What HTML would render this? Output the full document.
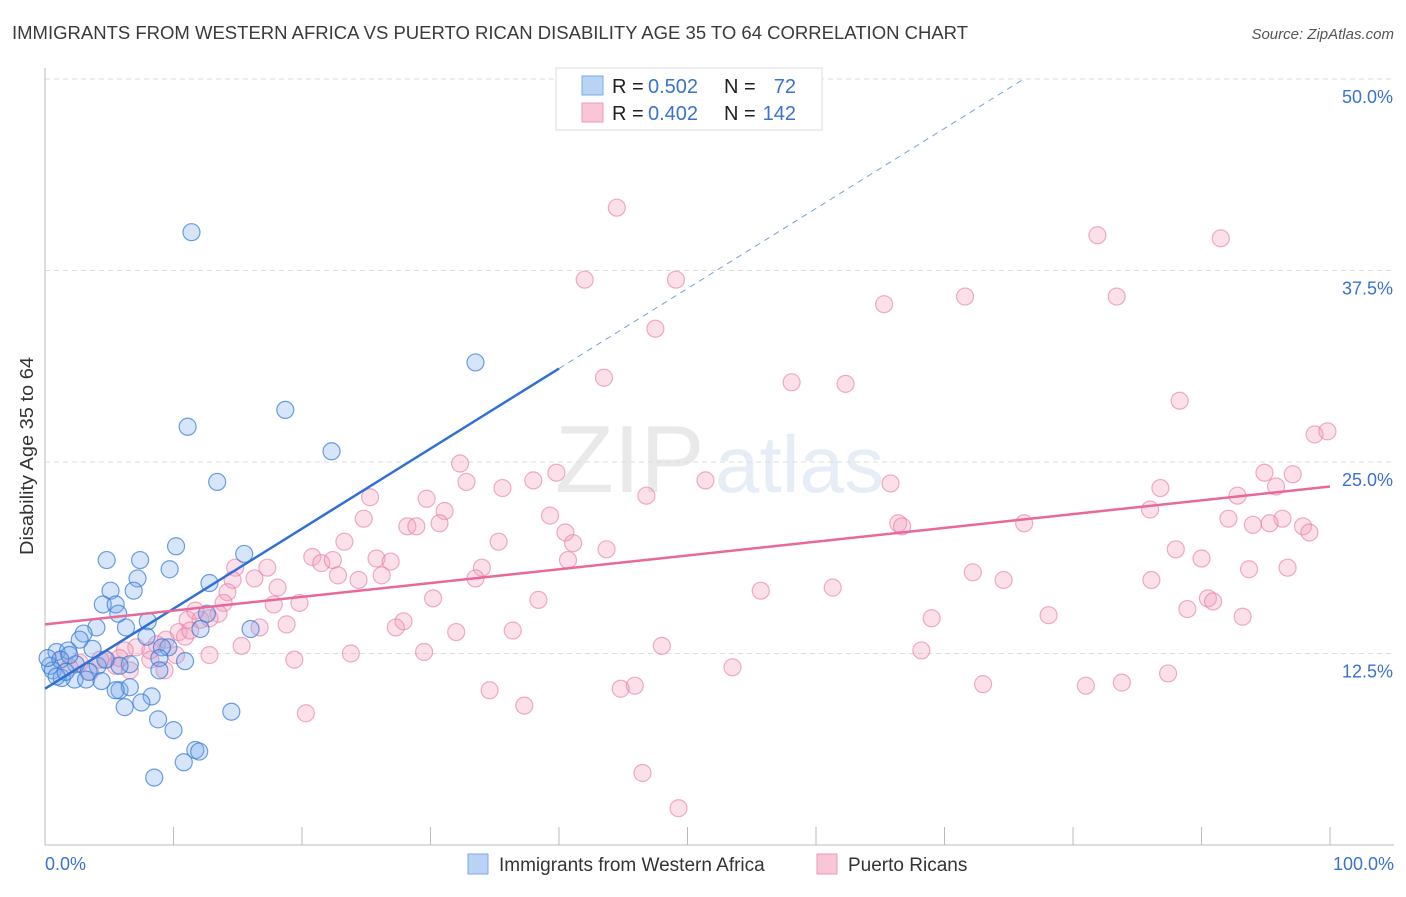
<!DOCTYPE html>
<html><head><meta charset="utf-8"><style>
body{margin:0;background:#fff;font-family:"Liberation Sans",sans-serif}
svg text{font-family:"Liberation Sans",sans-serif}
</style></head><body>
<svg id="chart" width="1406" height="892" xmlns="http://www.w3.org/2000/svg">
<text x="12" y="39" font-size="18" textLength="956" lengthAdjust="spacingAndGlyphs" fill="#3a3a3a">IMMIGRANTS FROM WESTERN AFRICA VS PUERTO RICAN DISABILITY AGE 35 TO 64 CORRELATION CHART</text>
<text x="1394" y="39" font-size="15" fill="#555" text-anchor="end" font-style="italic">Source: ZipAtlas.com</text>
<g opacity="0.18">
<text x="555" y="492" font-size="96" font-family="Liberation Serif" fill="#888">ZIP</text>
<text x="715" y="492" font-size="80" fill="#7aa0d8">atlas</text>
</g>
<g id="grid"></g><g id="axes"></g><g id="pts"></g><g id="lines"></g>
<text transform="translate(33,456) rotate(-90)" font-size="18" textLength="198" lengthAdjust="spacingAndGlyphs" fill="#333" text-anchor="middle">Disability Age 35 to 64</text>
<g>
<rect x="556" y="68" width="266" height="62" fill="#fff" stroke="#ddd"/>
<rect x="582" y="76" width="21" height="19" fill="#b9d3f5" stroke="#7aa8e6"/>
<rect x="582" y="103" width="21" height="19" fill="#f9c6d6" stroke="#ec9ab5"/>
<text x="612" y="93" font-size="20" fill="#222">R =</text>
<text x="648" y="93" font-size="20" fill="#3a72d0">0.502</text>
<text x="724" y="93" font-size="20" fill="#222">N =</text>
<text x="796" y="93" font-size="20" fill="#3a72d0" text-anchor="end">72</text>
<text x="612" y="120" font-size="20" fill="#222">R =</text>
<text x="648" y="120" font-size="20" fill="#3a72d0">0.402</text>
<text x="724" y="120" font-size="20" fill="#222">N =</text>
<text x="796" y="120" font-size="20" fill="#3a72d0" text-anchor="end">142</text>
</g>
<g>
<rect x="468" y="854" width="20" height="20" fill="#b9d3f5" stroke="#7aa8e6"/>
<text x="499" y="871" font-size="19" fill="#333">Immigrants from Western Africa</text>
<rect x="817" y="854" width="20" height="20" fill="#f9c6d6" stroke="#ec9ab5"/>
<text x="848" y="871" font-size="19" fill="#333">Puerto Ricans</text>
</g>
<text x="45" y="870" font-size="18" fill="#3a72d0">0.0%</text>
<text x="1394" y="870" font-size="18" fill="#3a72d0" text-anchor="end">100.0%</text>
</svg>
<script>
const yTicks=[12.5,25,37.5,50];
const yTickLabels=["12.5%","25.0%","37.5%","50.0%"];
const xTicks=[0,10,20,30,40,50,60,70,80,90,100];
const blueX=[11.4,33.5,18.7,11.1,22.3,13.4,10.2,15.5,4.8,7.4,9.7,7.2,12.8,5.1,6.9,4.5,5.5,5.7,12.6,8.0,6.3,4.0,3.0,12.1,16.0,7.9,2.7,9.6,9.1,3.7,0.9,1.8,8.9,10.9,2.4,6.6,4.1,0.4,1.2,0.6,3.4,5.8,8.9,2.3,3.2,4.4,1.3,0.9,5.8,6.6,5.5,8.3,7.5,6.2,14.5,8.8,10.0,11.7,12.0,10.8,8.5,1.9,0.2,1.6,4.7];
const blueY=[40.0,31.5,28.4,27.3,25.7,23.7,19.5,19.0,18.6,18.6,18.0,17.4,17.1,16.6,16.6,15.7,15.7,15.1,15.1,14.6,14.2,14.2,13.8,14.1,14.1,13.6,13.4,12.9,12.9,12.8,12.6,12.7,12.2,12.0,11.8,11.8,11.7,11.7,12.1,11.4,11.3,11.7,11.4,10.8,10.8,10.7,10.9,11.0,10.1,10.3,10.1,9.7,9.3,9.0,8.7,8.2,7.5,6.2,6.1,5.4,4.4,12.4,12.2,11.3,12.1];
const pinkX=[44.5,81.9,91.5,42.0,49.1,65.3,71.6,83.4,47.5,43.5,58.1,62.3,88.3,98.8,99.8,32.3,39.8,94.9,97.1,32.8,35.6,38.0,51.4,65.8,86.8,95.8,92.8,46.8,25.3,29.7,86.0,31.1,24.8,39.3,92.1,96.3,28.2,28.9,30.7,40.5,66.4,66.7,76.2,94.0,95.3,97.9,98.4,23.3,35.3,41.1,43.7,88.0,90.0,20.8,21.5,22.4,25.8,26.9,14.8,17.3,40.7,93.7,96.7,14.6,16.3,34.0,33.5,22.8,24.4,26.2,72.2,74.6,86.1,18.1,55.7,61.3,14.2,13.9,17.8,19.8,30.2,38.4,88.9,90.5,90.9,78.1,93.2,69.0,27.9,27.3,36.4,32.0,18.8,13.5,12.8,11.1,10.4,10.9,9.4,16.7,15.3,19.4,23.8,29.5,48.0,68.2,12.8,7.1,8.7,4.8,5.5,53.5,87.4,73.0,81.0,83.8,45.9,44.8,34.6,37.3,20.3,46.5,49.3,1.2,2.7,4.3,6.6,8.2,3.5,1.9,8.2,6.2,10.2,9.3,5.8,12.1,11.7,11.3];
const pinkY=[41.6,39.8,39.6,36.9,36.9,35.3,35.8,35.8,33.7,30.5,30.2,30.1,29.0,26.8,27.0,24.9,24.3,24.3,24.2,23.7,23.3,23.8,23.8,23.6,23.3,23.4,22.8,22.8,22.7,22.6,21.9,21.8,21.3,21.5,21.3,21.3,20.8,20.8,21.0,20.4,21.0,20.8,21.0,20.9,21.0,20.8,20.4,19.8,19.8,19.7,19.3,19.3,18.7,18.8,18.4,18.6,18.7,18.5,18.1,18.1,18.6,18.0,18.1,17.3,17.4,18.1,17.4,17.6,17.3,17.6,17.8,17.3,17.3,16.8,16.6,16.8,16.5,15.8,15.7,15.8,16.1,16.0,15.4,16.1,15.9,15.0,14.9,14.8,14.6,14.2,14.0,13.9,14.4,15.1,14.8,14.7,13.9,13.6,13.4,14.2,13.0,12.1,12.5,12.6,13.0,12.7,12.4,12.9,13.1,12.1,11.7,11.6,11.2,10.5,10.4,10.6,10.4,10.2,10.1,9.1,8.6,4.7,2.4,12.1,11.9,12.1,11.4,12.1,11.3,11.6,12.7,12.7,12.4,11.4,12.2,14.7,15.3,14.0];
const blueLine=[10.2,0.5225];
const pinkLine=[14.4,0.09];
const X=v=>45+v*12.85, Y=v=>845-v*15.32;
const NS="http://www.w3.org/2000/svg";
function mk(p,t,a){const e=document.createElementNS(NS,t);for(const k in a)e.setAttribute(k,a[k]);document.getElementById(p).appendChild(e);return e;}
yTicks.forEach((v,i)=>{
 const g=mk('grid','line',{x1:45,x2:1394,y1:Y(v),y2:Y(v),stroke:'#ddd','stroke-dasharray':'5,4'});
 
 
 const t=mk('grid','text',{x:1393,y:Y(v)+24,'font-size':18,fill:'#3a72d0','text-anchor':'end'});t.textContent=yTickLabels[i];
 
 
});
const ax=mk('axes','line',{x1:45,x2:45,y1:68,y2:845,stroke:'#bbb'});


const bx=mk('axes','line',{x1:45,x2:1394,y1:845,y2:845,stroke:'#bbb'});


xTicks.forEach(v=>{const t=mk('axes','line',{x1:X(v),x2:X(v),y1:827,y2:845,stroke:'#bbb'});
 
 });
pinkX.forEach((v,i)=>{const c=mk('pts','circle',{cx:X(v),cy:Y(pinkY[i]),r:8.5,fill:'rgba(244,160,190,0.32)',stroke:'rgba(232,120,160,0.6)','stroke-width':1.2});
 
 });
blueX.forEach((v,i)=>{const c=mk('pts','circle',{cx:X(v),cy:Y(blueY[i]),r:8.5,fill:'rgba(120,170,235,0.3)',stroke:'rgba(50,120,215,0.7)','stroke-width':1.2});
 
 });
const bl=mk('lines','line',{x1:X(0),y1:Y(blueLine[0]),x2:X(40),y2:Y(blueLine[0]+40*blueLine[1]),stroke:'#2f6fd6','stroke-width':2.5});


const xe=(50-blueLine[0])/blueLine[1];
const bd=mk('lines','line',{x1:X(40),y1:Y(blueLine[0]+40*blueLine[1]),x2:X(xe),y2:Y(50),stroke:'#7aa0d8','stroke-width':1,'stroke-dasharray':'6,5'});


const pl=mk('lines','line',{x1:X(0),y1:Y(pinkLine[0]),x2:X(100),y2:Y(pinkLine[0]+100*pinkLine[1]),stroke:'#e8689a','stroke-width':2.5});


</script>
</body></html>
